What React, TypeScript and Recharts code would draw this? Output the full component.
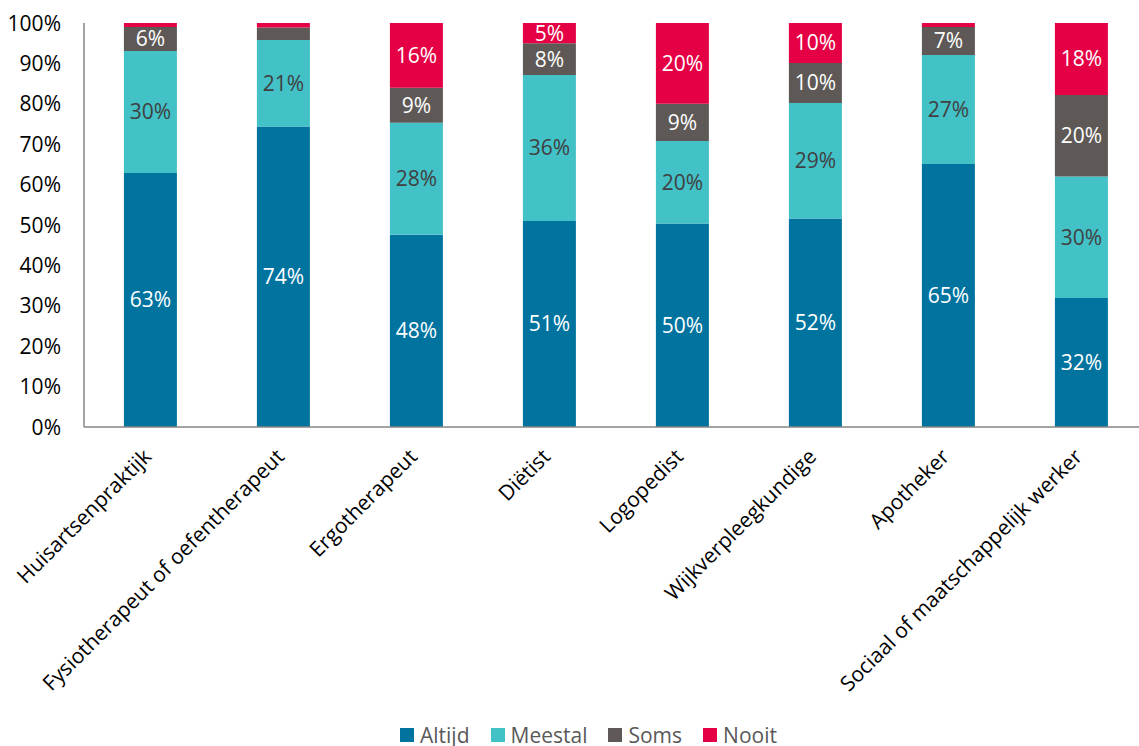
import React from "react";
import { BarChart, Bar, XAxis, YAxis, Legend, LabelList } from "recharts";

const categories = [
  "Huisartsenpraktijk",
  "Fysiotherapeut of oefentherapeut",
  "Ergotherapeut",
  "Diëtist",
  "Logopedist",
  "Wijkverpleegkundige",
  "Apotheker",
  "Sociaal of maatschappelijk werker",
];
const altijd = [62.9, 74.4, 47.6, 51.0, 50.4, 51.6, 65.1, 31.9];
const meestal = [30.2, 21.4, 27.7, 36.1, 20.4, 28.6, 27.0, 30.1];
const soms = [5.9, 3.1, 8.7, 7.9, 9.2, 9.9, 6.9, 20.2];
const nooit = [1.0, 1.1, 16.0, 5.0, 20.0, 9.9, 1.0, 17.8];
const yTicks = [0, 10, 20, 30, 40, 50, 60, 70, 80, 90, 100];

const seriesNames = ["Altijd", "Meestal", "Soms", "Nooit"];
const seriesKeys = ["altijd", "meestal", "soms", "nooit"];
const colors = ["#00739F", "#42C1C7", "#5E5956", "#E50046"];
const labelColors = ["#FFFFFF", "#404040", "#FFFFFF", "#FFFFFF"];

const data = categories.map((c, i) => ({
  name: c,
  altijd: altijd[i],
  meestal: meestal[i],
  soms: soms[i],
  nooit: nooit[i],
}));

const FONT = "'Open Sans', sans-serif";
const FS = 21;

const XTick = (props: any) => {
  const { x, y, payload } = props;
  const ax = x + 2;
  const ay = y + 31;
  return (
    <text
      x={ax}
      y={ay}
      transform={`rotate(-45, ${ax}, ${ay})`}
      textAnchor="end"
      fontSize={FS}
      fontFamily={FONT}
      fill="#000000"
    >
      {payload.value}
    </text>
  );
};

const YTick = (props: any) => {
  const { y, payload } = props;
  return (
    <text
      x={61}
      y={y}
      dy="0.36em"
      textAnchor="end"
      fontSize={FS}
      fontFamily={FONT}
      fill="#000000"
    >
      {payload.value}%
    </text>
  );
};

const LegendContent = () => (
  <div
    style={{
      height: 24,
      display: "flex",
      alignItems: "center",
      fontFamily: FONT,
      fontSize: FS,
      color: "#595959",
    }}
  >
    {seriesNames.map((n, i) => (
      <div
        key={n}
        style={{ display: "flex", alignItems: "center", marginRight: 21 }}
      >
        <div
          style={{
            width: 14,
            height: 14,
            background: colors[i],
            marginRight: 6,
          }}
        />
        <span style={{ lineHeight: "24px" }}>{n}</span>
      </div>
    ))}
  </div>
);

const fmt = (v: any) => (Number(v) >= 4.5 ? `${Math.round(Number(v))}%` : "");

export default function App() {
  return (
    <div
      style={{
        position: "absolute",
        left: 0,
        top: 0,
        width: 1139,
        height: 746,
        overflow: "hidden",
      }}
    >
      <BarChart
        width={1150}
        height={746}
        data={data}
        margin={{ top: 23, right: 2, left: 0, bottom: 0 }}
        barCategoryGap="30%"
      >
        <XAxis
          dataKey="name"
          interval={0}
          height={295}
          tickLine={false}
          tickSize={0}
          tickMargin={0}
          axisLine={{ stroke: "#868686", strokeWidth: 1.5 }}
          tick={<XTick />}
        />
        <YAxis
          width={84}
          domain={[0, 100]}
          ticks={yTicks}
          interval={0}
          tickLine={false}
          tickSize={0}
          axisLine={{ stroke: "#868686", strokeWidth: 1.5 }}
          tick={<YTick />}
        />
        <Legend
          verticalAlign="bottom"
          height={24}
          content={<LegendContent />}
          wrapperStyle={{ left: 400, width: 700, top: 723, bottom: "auto", height: 24 }}
        />
        {seriesKeys.map((k, i) => (
          <Bar
            key={k}
            dataKey={k}
            name={seriesNames[i]}
            stackId="a"
            fill={colors[i]}
            isAnimationActive={false}
          >
            <LabelList
              dataKey={k}
              position="center"
              formatter={fmt}
              fill={labelColors[i]}
              fontSize={FS}
              fontFamily={FONT}
            />
          </Bar>
        ))}
      </BarChart>
    </div>
  );
}
